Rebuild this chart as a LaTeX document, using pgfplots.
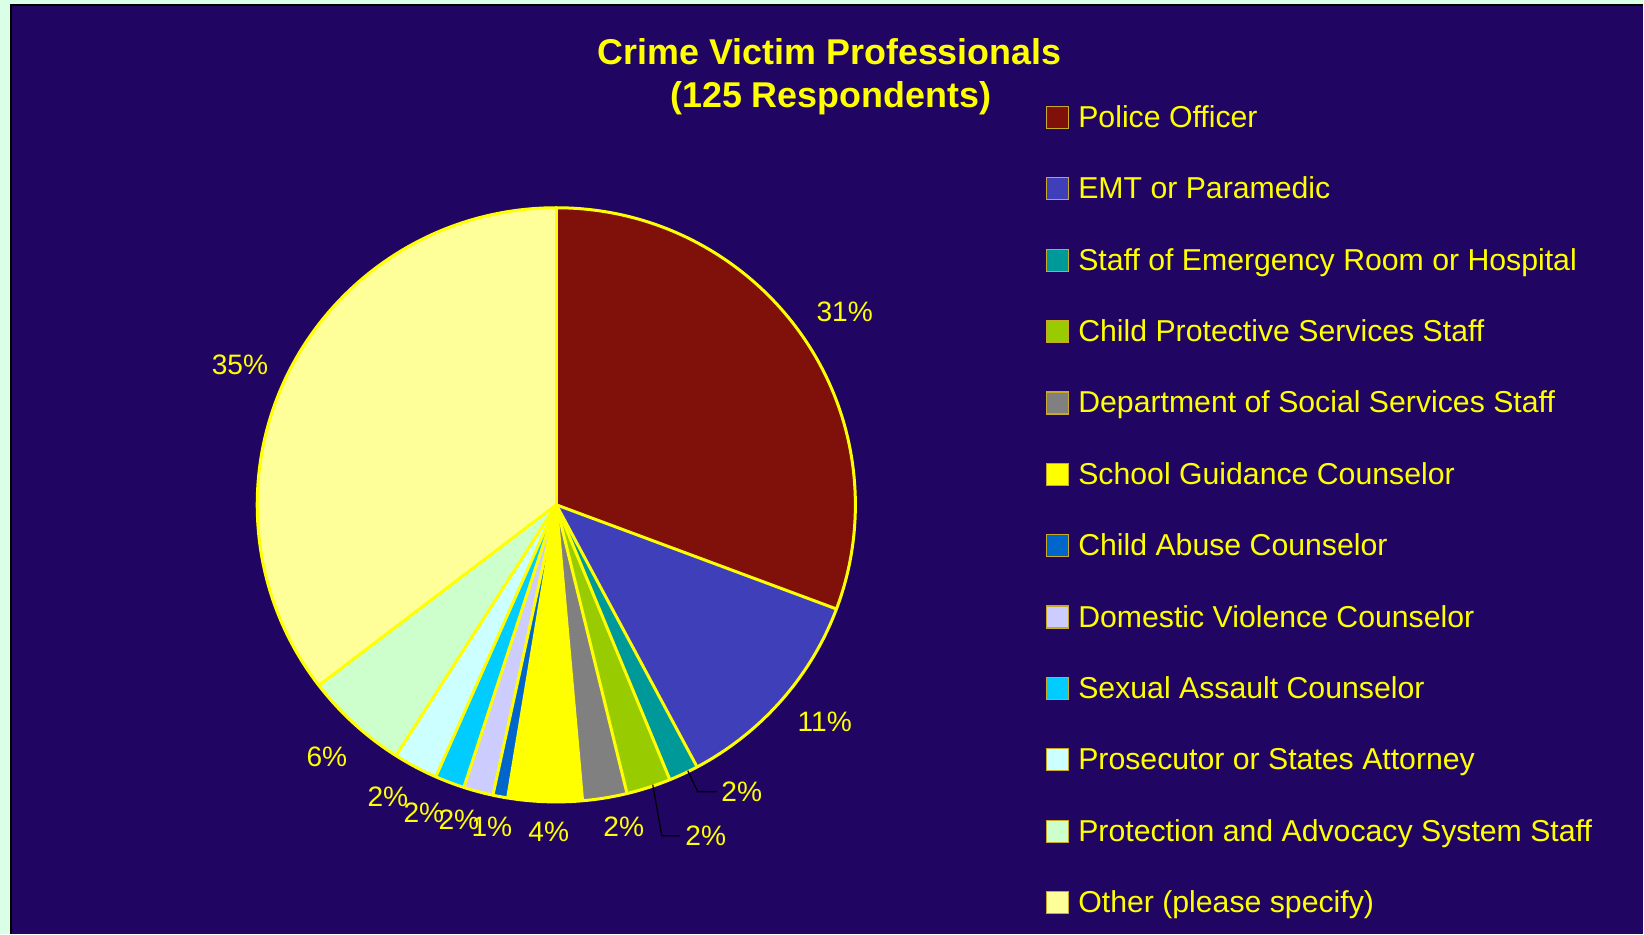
\documentclass[border=0pt]{standalone}
\usepackage{pgfplots}
\pgfplotsset{compat=1.18}
\usepackage{pgfplotstable}
\usepackage{fontspec}
\setmainfont{Liberation Sans}

\definecolor{bgdark}{RGB}{32,6,98}
\definecolor{bggreen}{RGB}{217,255,230}
\definecolor{txt}{RGB}{255,255,0}
\definecolor{legborder}{RGB}{200,170,40}
\definecolor{cPolice}{RGB}{128,16,10}
\definecolor{cEMT}{RGB}{63,63,185}
\definecolor{cER}{RGB}{0,153,153}
\definecolor{cCPS}{RGB}{153,204,0}
\definecolor{cDSS}{RGB}{128,128,128}
\definecolor{cSchool}{RGB}{255,255,0}
\definecolor{cAbuse}{RGB}{0,102,204}
\definecolor{cDV}{RGB}{204,204,255}
\definecolor{cSA}{RGB}{0,204,255}
\definecolor{cPros}{RGB}{204,255,255}
\definecolor{cPA}{RGB}{204,255,204}
\definecolor{cOther}{RGB}{255,255,153}

\newcommand\pctfont{\fontsize{8pt}{9.6pt}\selectfont}
\newcommand\legfont{\fontsize{8.6pt}{10.3pt}\selectfont}
\newcommand\titlefont{\fontsize{10.2pt}{12.2pt}\selectfont\bfseries}
\tikzset{legtext/.style={text=txt, font=\legfont, anchor=base west, inner sep=0pt}}

% share of respondents (percent), label text, label baseline position (px)
\pgfplotstableread[col sep=comma]{
name,value,col,pct,lx,ly
Police Officer,30.7,cPolice,31,845,322
EMT or Paramedic,11.5,cEMT,11,825,732
Staff of Emergency Room or Hospital,1.6,cER,2,742,802
Child Protective Services Staff,2.4,cCPS,2,706,846
Department of Social Services Staff,2.4,cDSS,2,624,837
School Guidance Counselor,4.0,cSchool,4,549,842
Child Abuse Counselor,0.8,cAbuse,1,492,837
Domestic Violence Counselor,1.6,cDV,2,459,830
Sexual Assault Counselor,1.6,cSA,2,424,823
Prosecutor or States Attorney,2.4,cPros,2,388,807
Protection and Advocacy System Staff,5.6,cPA,6,327,767
Other (please specify),35.4,cOther,35,240,375
}\piedata

% build wedge / legend drawing commands from the table
\gdef\cum{0}
\gdef\wedges{}
\gdef\borders{}
\gdef\legitems{}
\foreach \i in {0,...,11}{%
  \pgfplotstablegetelem{\i}{value}\of\piedata \global\let\myval\pgfplotsretval
  \pgfplotstablegetelem{\i}{col}\of\piedata \global\let\mycol\pgfplotsretval
  \pgfplotstablegetelem{\i}{name}\of\piedata \global\let\myname\pgfplotsretval
  \pgfmathsetmacro\ta{3.6*\cum}%
  \pgfmathsetmacro\tb{3.6*(\cum+\myval)}%
  \pgfmathsetmacro\newcum{\cum+\myval}%
  \xdef\cum{\newcum}%
  \pgfmathsetmacro\sx{556.5+299*sin(\ta)}%
  \pgfmathsetmacro\sy{505-297*cos(\ta)}%
  \pgfmathsetmacro\sa{90-\ta}%
  \pgfmathsetmacro\ea{90-\tb}%
  \pgfmathsetmacro\ly{117.5+71.4*\i}%
  \pgfmathsetmacro\lya{\ly-11}%
  \pgfmathsetmacro\lyb{\ly+11}%
  \pgfmathsetmacro\lyt{\ly+10}%
  \xdef\wedges{\unexpanded\expandafter{\wedges}
    \noexpand\fill[\mycol] (axis cs:556.5,505) -- (axis cs:\sx,\sy)
      arc[start angle=\sa, end angle=\ea, x radius=2.99cm, y radius=2.97cm] -- cycle;}%
  \xdef\borders{\unexpanded\expandafter{\borders}
    \noexpand\draw[txt, line width=0.03cm, line cap=round] (axis cs:556.5,505) -- (axis cs:\sx,\sy);}%
  \xdef\legitems{\unexpanded\expandafter{\legitems}
    \noexpand\filldraw[fill=\mycol, draw=legborder, line width=0.012cm]
      (axis cs:1047,\lya) rectangle (axis cs:1069,\lyb);
    \noexpand\node[legtext] at (axis cs:1078,\lyt) {\myname};}%
}

\begin{document}
\begin{tikzpicture}
\begin{axis}[
    x=0.01cm, y=0.01cm, y dir=reverse,
    xmin=0, xmax=1644, ymin=0, ymax=934,
    scale only axis, hide axis, clip=false,
  ]
  % background
  \fill[bggreen] (axis cs:0,0) rectangle (axis cs:1644,934);
  \fill[bgdark] (axis cs:11,5) rectangle (axis cs:1644,934);
  \draw[black, line width=0.012cm] (axis cs:11,934) -- (axis cs:11,5) -- (axis cs:1644,5);

  % title
  \node[text=txt, font=\titlefont, anchor=base, inner sep=0pt] at (axis cs:830,65) {Crime Victim Professionals};
  \node[text=txt, font=\titlefont, anchor=base, inner sep=0pt] at (axis cs:831,108) {(125 Respondents)};

  % pie
  \wedges
  \borders
  \draw[txt, line width=0.03cm] (axis cs:556.5,505) ellipse[x radius=2.99cm, y radius=2.97cm];

  % legend
  \legitems

  % leader lines
  \addplot[black, line width=0.012cm] coordinates {(688,771) (698,792) (717,792)};
  \addplot[black, line width=0.012cm] coordinates {(653,785) (662,836) (680,836)};

  % percentage labels
  \addplot[only marks, mark=none, point meta=explicit symbolic,
    nodes near coords={\pgfplotspointmeta\%},
    every node near coord/.style={anchor=base, text=txt, font=\pctfont, inner sep=0pt}]
    table[x=lx, y=ly, meta=pct] {\piedata};
\end{axis}
\end{tikzpicture}
\end{document}
